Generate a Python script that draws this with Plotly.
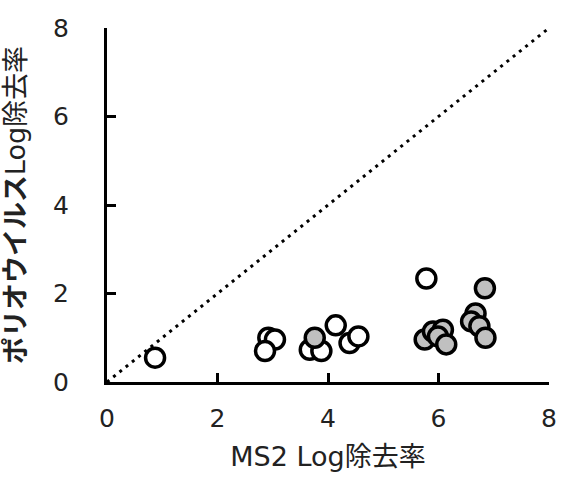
import plotly.graph_objects as go

# Open circles (white fill)
open_x = [0.87, 2.92, 3.04, 2.86, 3.67, 3.88, 4.14, 4.39, 4.55, 5.78]
open_y = [0.55, 1.00, 0.96, 0.70, 0.73, 0.70, 1.28, 0.88, 1.03, 2.34]

# Gray circles
gray_x = [3.76, 5.75, 5.90, 6.08, 5.99, 6.14, 6.84, 6.67, 6.59, 6.74, 6.85]
gray_y = [1.00, 0.96, 1.14, 1.18, 1.03, 0.85, 2.12, 1.55, 1.37, 1.26, 1.00]

line_x = [0, 8]
line_y = [0, 8]

x_ticks = [0, 2, 4, 6, 8]
y_ticks = [0, 2, 4, 6, 8]

FONT = "DejaVu Sans, Noto Sans CJK JP"

fig = go.Figure()
fig.add_trace(go.Scatter(x=line_x, y=line_y, mode="lines",
                         line=dict(color="black", width=3, dash="3px,5px"),
                         showlegend=False, hoverinfo="skip"))
fig.add_trace(go.Scatter(x=open_x, y=open_y, mode="markers",
                         marker=dict(size=19, color="white",
                                     line=dict(color="black", width=3.5)),
                         showlegend=False))
fig.add_trace(go.Scatter(x=gray_x, y=gray_y, mode="markers",
                         marker=dict(size=19, color="#c0c0c0",
                                     line=dict(color="black", width=3.5)),
                         showlegend=False))

fig.update_layout(
    width=571, height=488,
    margin=dict(l=107, r=22, t=28, b=106),
    paper_bgcolor="white", plot_bgcolor="white",
    font=dict(family=FONT, color="black", size=25),
    xaxis=dict(range=[0, 8], tickvals=x_ticks, showgrid=False, zeroline=False,
               showline=True, linecolor="black", linewidth=3, automargin=False,
               ticks="inside", ticklen=9, tickwidth=2.5, tickcolor="black",
               tickfont=dict(size=25, color="#222"), ticklabelstandoff=12,
               title=dict(text="MS2 Log除去率", font=dict(size=27, color="#222"), standoff=16)),
    yaxis=dict(range=[0, 8], tickvals=y_ticks, showgrid=False, zeroline=False,
               showline=True, linecolor="black", linewidth=3, automargin=False,
               ticks="inside", ticklen=9, tickwidth=2.5, tickcolor="black",
               tickfont=dict(size=25, color="#222"), ticklabelstandoff=30,
               title=dict(text="<b>ポリオウイルス</b>Log除去率", font=dict(size=27, color="#222"), standoff=26)),
)

fig.write_html("out.html")
